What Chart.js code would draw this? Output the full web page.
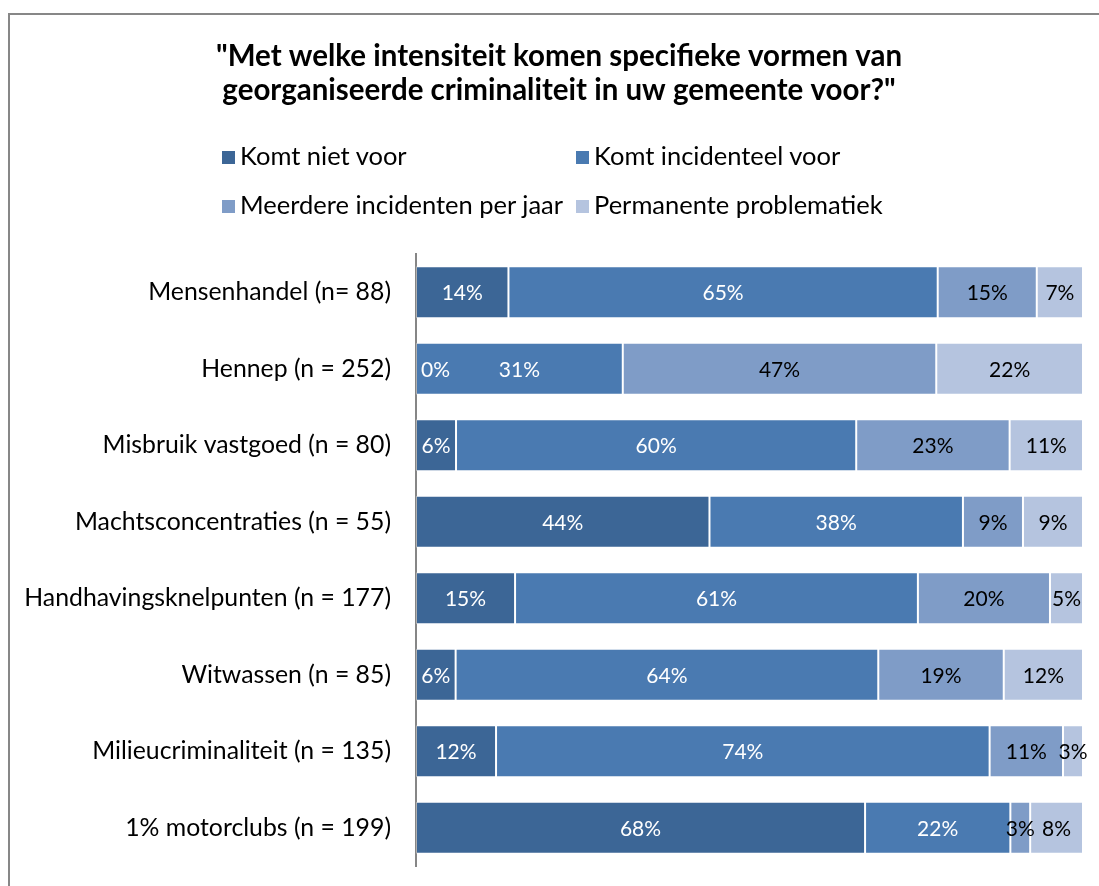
<!DOCTYPE html>
<html lang="nl">
<head>
    <meta charset="UTF-8">
    <title>Georganiseerde criminaliteit</title>
    <script src="https://cdn.jsdelivr.net/npm/chart.js"></script>
    <style>
        body {
            margin: 0;
            padding: 0;
            background: #fff;
            font-family: Lato, sans-serif;
            overflow: hidden;
        }
        .frame {
            position: absolute;
            left: 8px;
            top: 13px;
            width: 1200px;
            height: 1000px;
            border-top: 2px solid #878787;
            border-left: 2px solid #878787;
        }
        .chart-box {
            position: absolute;
            left: 0;
            top: 0;
            width: 1099px;
            height: 886px;
        }
        .legend {
            position: absolute;
            font-size: 25.5px;
            color: #000;
            white-space: nowrap;
            line-height: 26px;
        }
        .legend span.box {
            display: inline-block;
            width: 13px;
            height: 13px;
            margin-right: 5px;
            vertical-align: 1px;
        }
    </style>
</head>
<body>
    <div class="frame"></div>
    <div class="chart-box">
        <canvas id="crimeChart" width="1099" height="886"></canvas>
    </div>
    <div id="legend"></div>

    <script>
        const titleLines = ['"Met welke intensiteit komen specifieke vormen van', 'georganiseerde criminaliteit in uw gemeente voor?"'];
        const categories = [
            'Mensenhandel (n= 88)',
            'Hennep (n = 252)',
            'Misbruik vastgoed (n = 80)',
            'Machtsconcentraties (n = 55)',
            'Handhavingsknelpunten (n = 177)',
            'Witwassen (n = 85)',
            'Milieucriminaliteit (n = 135)',
            '1% motorclubs (n = 199)'
        ];
        const seriesNames = ['Komt niet voor', 'Komt incidenteel voor', 'Meerdere incidenten per jaar', 'Permanente problematiek'];
        const seriesColors = ['#3C6696', '#4A7AB1', '#7F9CC7', '#B5C4DF'];
        const labelColors = ['#ffffff', '#ffffff', '#000000', '#000000'];

        // printed percentages per category (rows may add up to 101 because of rounding)
        const komtNietVoor =        [14, 0, 6, 44, 15, 6, 12, 68];
        const komtIncidenteelVoor = [65, 31, 60, 38, 61, 64, 74, 22];
        const meerdereIncidenten =  [15, 47, 23, 9, 20, 19, 11, 3];
        const permanente =          [7, 22, 11, 9, 5, 12, 3, 8];

        const series = [komtNietVoor, komtIncidenteelVoor, meerdereIncidenten, permanente];
        const rowTotals = categories.map((c, i) => series.reduce((s, arr) => s + arr[i], 0));

        // legend (two columns, two rows)
        const legendPos = [[222, 142], [576, 142], [222, 191], [576, 191]];
        const legendEl = document.getElementById('legend');
        seriesNames.forEach((name, i) => {
            const d = document.createElement('div');
            d.className = 'legend';
            d.style.left = legendPos[i][0] + 'px';
            d.style.top = legendPos[i][1] + 'px';
            d.innerHTML = '<span class="box" style="background:' + seriesColors[i] + '"></span>' + name;
            legendEl.appendChild(d);
        });

        // percentage labels in the middle of each segment
        const segmentLabels = {
            id: 'segmentLabels',
            afterLayout(chart) {
                // title sits a bit right of the canvas centre in the original
                if (chart.titleBlock) chart.titleBlock.left += 15;
            },
            afterDatasetsDraw(chart) {
                const ctx = chart.ctx;
                const area = chart.chartArea;
                ctx.save();
                ctx.font = '21px Lato';
                ctx.textBaseline = 'middle';
                ctx.textAlign = 'center';
                chart.data.datasets.forEach((ds, di) => {
                    const meta = chart.getDatasetMeta(di);
                    meta.data.forEach((bar, i) => {
                        const text = series[di][i] + '%';
                        const w = ctx.measureText(text).width;
                        let x = (bar.x + bar.base) / 2;
                        if (x < area.left + w / 2 + 5) x = area.left + w / 2 + 5;
                        ctx.fillStyle = labelColors[di];
                        ctx.fillText(text, x, bar.y + 1);
                    });
                });
                ctx.restore();
            }
        };

        const ctx = document.getElementById('crimeChart').getContext('2d');
        new Chart(ctx, {
            type: 'bar',
            data: {
                labels: categories,
                datasets: series.map((arr, di) => ({
                    label: seriesNames[di],
                    data: arr.map((v, i) => v / rowTotals[i] * 100),
                    backgroundColor: seriesColors[di],
                    borderColor: 'rgba(255,255,255,0.35)',
                    borderWidth: 1,
                    borderSkipped: false,
                    barPercentage: 0.68,
                    categoryPercentage: 1
                }))
            },
            options: {
                indexAxis: 'y',
                responsive: false,
                animation: false,
                layout: {
                    padding: { left: 20, right: 16, top: 0, bottom: 20 }
                },
                plugins: {
                    legend: { display: false },
                    tooltip: { enabled: false },
                    title: {
                        display: true,
                        text: titleLines,
                        color: '#000',
                        font: { family: 'Lato', size: 29.5, weight: 'bold', lineHeight: 1.17 },
                        padding: { top: 39, bottom: 146 }
                    }
                },
                scales: {
                    x: {
                        stacked: true,
                        min: 0,
                        max: 100,
                        display: false
                    },
                    y: {
                        stacked: true,
                        grid: { display: false, drawTicks: false },
                        border: { display: true, color: '#868686', width: 2 },
                        ticks: {
                            color: '#000',
                            padding: 25,
                            font: { family: 'Lato', size: 24.8 }
                        },
                        afterFit(scale) {
                            scale.width = 396;
                            scale.paddingTop = 0;
                            scale.paddingBottom = 0;
                        }
                    }
                }
            },
            plugins: [segmentLabels]
        });
    </script>
</body>
</html>
